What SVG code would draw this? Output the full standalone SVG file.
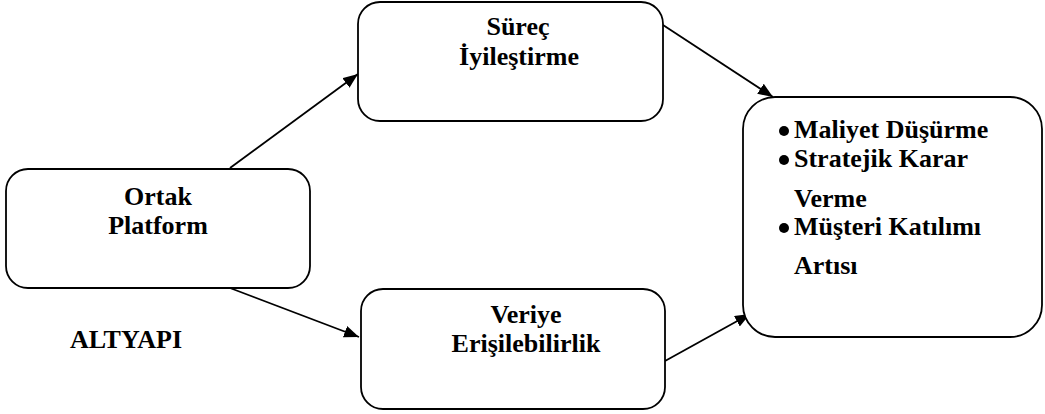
<svg xmlns="http://www.w3.org/2000/svg" width="1045" height="414" viewBox="0 0 1045 414">
  <style>
    .box { fill: #ffffff; stroke: #000000; stroke-width: 1.8; }
    .lbl { font-family: "Liberation Serif", "Times New Roman", serif; font-weight: bold; font-size: 26px; fill: #000000; }
    .mid { text-anchor: middle; }
    .edge { stroke: #000000; stroke-width: 1.8; fill: none; marker-end: url(#arrow); }
    .dot { fill: #000000; }
  </style>
  <defs>
    <marker id="arrow" markerUnits="userSpaceOnUse" markerWidth="16" markerHeight="12" refX="15" refY="6" orient="auto">
      <path d="M0,0 L15,6 L0,12 z" fill="#000000"/>
    </marker>
  </defs>

  <rect width="1045" height="414" fill="#ffffff"/>

  <!-- connectors -->
  <g id="connectors">
    <line class="edge" x1="230" y1="168" x2="358" y2="74"/>
    <line class="edge" x1="230" y1="288" x2="359" y2="337"/>
    <line class="edge" x1="663" y1="25" x2="773" y2="97"/>
    <line class="edge" x1="665" y1="361" x2="750" y2="314"/>
  </g>

  <!-- ortak platform -->
  <g id="ortak-platform">
    <rect class="box" x="6" y="169" width="304" height="119" rx="22" ry="22"/>
    <text class="lbl mid" x="158" y="205">Ortak</text>
    <text class="lbl mid" x="158" y="234">Platform</text>
  </g>

  <!-- surec iyilestirme -->
  <g id="surec-iyilestirme">
    <rect class="box" x="358" y="2" width="305" height="119" rx="22" ry="22"/>
    <text class="lbl mid" x="518" y="35">Süreç</text>
    <text class="lbl mid" x="519" y="65">İyileştirme</text>
  </g>

  <!-- veriye erisilebilirlik -->
  <g id="veriye-erisilebilirlik">
    <rect class="box" x="361" y="289" width="304" height="120" rx="22" ry="22"/>
    <text class="lbl mid" x="526" y="323">Veriye</text>
    <text class="lbl mid" x="526" y="352">Erişilebilirlik</text>
  </g>

  <!-- outcomes -->
  <g id="kazanimlar">
    <rect class="box" x="743" y="97" width="299" height="240" rx="32" ry="32"/>
    <circle class="dot" cx="784" cy="131" r="5"/>
    <text class="lbl" x="794" y="138">Maliyet Düşürme</text>
    <circle class="dot" cx="784" cy="160" r="5"/>
    <text class="lbl" x="794" y="167">Stratejik Karar</text>
    <text class="lbl" x="794" y="207">Verme</text>
    <circle class="dot" cx="784" cy="228" r="5"/>
    <text class="lbl" x="794" y="235">Müşteri Katılımı</text>
    <text class="lbl" x="794" y="274">Artısı</text>
  </g>

  <!-- caption -->
  <g id="altyapi">
    <text class="lbl mid" x="126" y="348">ALTYAPI</text>
  </g>
</svg>
